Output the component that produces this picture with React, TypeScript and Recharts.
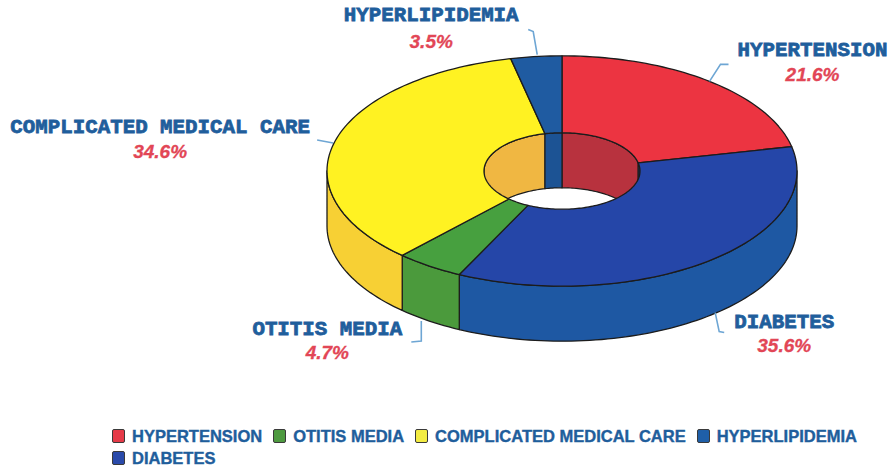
import React from 'react';
import { PieChart, Pie, Legend } from 'recharts';

// ---- data ----
const categories = ['HYPERTENSION', 'DIABETES', 'OTITIS MEDIA', 'COMPLICATED MEDICAL CARE', 'HYPERLIPIDEMIA'];
const shares = [21.6, 35.6, 4.7, 34.6, 3.5];
const shareLabels = ['21.6%', '35.6%', '4.7%', '34.6%', '3.5%'];
const legendOrder = ['HYPERTENSION', 'OTITIS MEDIA', 'COMPLICATED MEDICAL CARE', 'HYPERLIPIDEMIA', 'DIABETES'];

const data = categories.map((name, i) => ({ name, value: shares[i], pct: shareLabels[i] }));

// ---- styles ----
const PALETTE: Record<string, { top: string; side: string; inner: string; legend: string }> = {
  'HYPERTENSION': { top: '#EC3441', side: '#D42F3B', inner: '#B8323E', legend: '#E53A48' },
  'DIABETES': { top: '#2546A8', side: '#1E58A3', inner: '#1E4E9E', legend: '#2A4AAA' },
  'OTITIS MEDIA': { top: '#47A03F', side: '#4B9A3C', inner: '#3F8A36', legend: '#4E9A40' },
  'COMPLICATED MEDICAL CARE': { top: '#FFF222', side: '#F7D034', inner: '#F0B742', legend: '#F3EC42' },
  'HYPERLIPIDEMIA': { top: '#1F5BA1', side: '#1D5597', inner: '#1C5394', legend: '#1F5FA8' },
};

// label placement relative to the anchor point computed from each slice's mid angle
const LABEL_LAYOUT: Record<string, { name: [number, number]; pct: [number, number]; leader: [number, number][] }> = {
  'HYPERTENSION': { name: [103, -31], pct: [103, -7], leader: [[0, 0], [11, -17], [19, -17]] },
  'DIABETES': { name: [77, 6], pct: [77, 29], leader: [[8, -4], [12, 15], [17, 16]] },
  'OTITIS MEDIA': { name: [-102, 8], pct: [-102, 31], leader: [[-8, 0], [-8, 20], [-18, 21]] },
  'COMPLICATED MEDICAL CARE': { name: [-175, -13], pct: [-175, 11], leader: [[-2, 2], [-18, -1]] },
  'HYPERLIPIDEMIA': { name: [-105, -41], pct: [-105, -15], leader: [[1, -2], [-3, -25], [-8, -27]] },
};

const W = 891;
const H = 469;
const CX = 562;
const CY = 171;
const OUTER = 235;
const INNER = 78;
const TILT = 0.49;
const DEPTH = 55;
const EDGE = '#1c1c1c';
const NAME_COLOR = '#1F5E9C';
const PCT_COLOR = '#E24656';
const LEADER = '#6EA6D4';

const rad = (d: number) => (d * Math.PI) / 180;

function arcPts(cx: number, cy: number, r: number, a1: number, a2: number, dy: number) {
  const n = Math.max(2, Math.ceil(Math.abs(a2 - a1) / 1.5) + 1);
  const pts: [number, number][] = [];
  for (let k = 0; k < n; k++) {
    const a = a1 + ((a2 - a1) * k) / (n - 1);
    pts.push([cx + r * Math.cos(rad(a)), cy - r * TILT * Math.sin(rad(a)) + dy]);
  }
  return pts;
}

const toPath = (pts: [number, number][]) =>
  'M' + pts.map((p) => p[0].toFixed(2) + ',' + p[1].toFixed(2)).join('L') + 'Z';

function clip(a1: number, a2: number, lo: number, hi: number): [number, number] | null {
  const s = Math.max(a1, lo);
  const e = Math.min(a2, hi);
  return e > s ? [s, e] : null;
}

function renderWalls(props: any) {
  const { cx, cy, innerRadius, outerRadius, startAngle, endAngle, name, index } = props;
  const a1 = Math.min(startAngle, endAngle);
  const a2 = Math.max(startAngle, endAngle);
  const col = PALETTE[name];
  const paths: React.ReactNode[] = [];
  // outer wall – front half
  [clip(a1, a2, -180, 0), clip(a1, a2, 180, 360)].forEach((r, j) => {
    if (!r) return;
    const top = arcPts(cx, cy, outerRadius, r[0], r[1], 0);
    const bot = arcPts(cx, cy, outerRadius, r[1], r[0], DEPTH);
    paths.push(
      <path key={'o' + j} d={toPath([...top, ...bot])} fill={col.side} stroke={EDGE} strokeWidth={1.3} strokeLinejoin="round" />
    );
  });
  // inner wall – back half
  [clip(a1, a2, 0, 180), clip(a1, a2, -360, -180)].forEach((r, j) => {
    if (!r) return;
    const top = arcPts(cx, cy, innerRadius, r[0], r[1], 0);
    const bot = arcPts(cx, cy, innerRadius, r[1], r[0], DEPTH);
    paths.push(
      <path key={'i' + j} d={toPath([...top, ...bot])} fill={col.inner} stroke={EDGE} strokeWidth={1.2} strokeLinejoin="round" />
    );
  });
  return <g key={'w' + index}>{paths}</g>;
}

function renderTops(props: any) {
  const { cx, cy, innerRadius, outerRadius, startAngle, endAngle, midAngle, name, index, payload } = props;
  const a1 = Math.min(startAngle, endAngle);
  const a2 = Math.max(startAngle, endAngle);
  const col = PALETTE[name];
  const outer = arcPts(cx, cy, outerRadius, a1, a2, 0);
  const inner = arcPts(cx, cy, innerRadius, a2, a1, 0);
  const s = Math.sin(rad(midAngle));
  const ax = cx + outerRadius * Math.cos(rad(midAngle));
  const ay = cy - outerRadius * TILT * s + (s < 0 ? DEPTH : 0);
  const lay = LABEL_LAYOUT[name];
  const leader = lay.leader.map((p) => [ax + p[0], ay + p[1]].join(',')).join(' ');
  const pct = payload && payload.pct ? payload.pct : shareLabels[index];
  return (
    <g key={'t' + index}>
      <path d={toPath([...outer, ...inner])} fill={col.top} stroke={EDGE} strokeWidth={1.3} strokeLinejoin="round" />
      <polyline points={leader} fill="none" stroke={LEADER} strokeWidth={1.6} />
      <text
        x={ax + lay.name[0]}
        y={ay + lay.name[1]}
        textAnchor="middle"
        dominantBaseline="central"
        fontFamily="'Liberation Mono', 'Courier New', monospace"
        fontWeight={700}
        fontSize={20.8}
        fill={NAME_COLOR}
        stroke={NAME_COLOR}
        strokeWidth={0.8}
      >
        {name}
      </text>
      <text
        x={ax + lay.pct[0]}
        y={ay + lay.pct[1]}
        textAnchor="middle"
        dominantBaseline="central"
        fontFamily="'Liberation Sans', Arial, sans-serif"
        fontWeight={700}
        fontStyle="italic"
        fontSize={19}
        fill={PCT_COLOR}
        stroke={PCT_COLOR}
        strokeWidth={0.3}
      >
        {pct}
      </text>
    </g>
  );
}

function renderLegend() {
  return (
    <div style={{ display: 'flex', flexWrap: 'wrap', width: 780, rowGap: 2 }}>
      {legendOrder.map((n) => (
        <div key={n} style={{ display: 'flex', alignItems: 'center', marginRight: 11, height: 20 }}>
          <span
            style={{
              display: 'inline-block',
              width: 11,
              height: 12,
              background: PALETTE[n].legend,
              border: '1.7px solid #3a3a3a',
              borderRadius: 2,
              marginRight: 7,
            }}
          />
          <span
            style={{
              fontFamily: "'Liberation Sans', Arial, sans-serif",
              fontWeight: 700,
              fontSize: 16.5,
              color: NAME_COLOR,
              lineHeight: '20px',
              WebkitTextStroke: '0.4px ' + NAME_COLOR,
            }}
          >
            {n}
          </span>
        </div>
      ))}
    </div>
  );
}

export default function App() {
  return (
    <div style={{ position: 'absolute', left: 0, top: 0, width: W, height: H, background: '#fff' }}>
      <PieChart width={W} height={H} margin={{ top: 0, right: 0, bottom: 0, left: 0 }}>
        <Pie
          data={data}
          dataKey="value"
          nameKey="name"
          cx={CX}
          cy={CY}
          innerRadius={INNER}
          outerRadius={OUTER}
          startAngle={90}
          endAngle={-270}
          fill="none"
          stroke="none"
          label={renderWalls}
          labelLine={false}
          isAnimationActive={false}
          legendType="none"
        />
        <Pie
          data={data}
          dataKey="value"
          nameKey="name"
          cx={CX}
          cy={CY}
          innerRadius={INNER}
          outerRadius={OUTER}
          startAngle={90}
          endAngle={-270}
          fill="none"
          stroke="none"
          label={renderTops}
          labelLine={false}
          isAnimationActive={false}
        />
        <Legend content={renderLegend} wrapperStyle={{ left: 112, top: 426, width: 780, bottom: 'auto' }} />
      </PieChart>
    </div>
  );
}
